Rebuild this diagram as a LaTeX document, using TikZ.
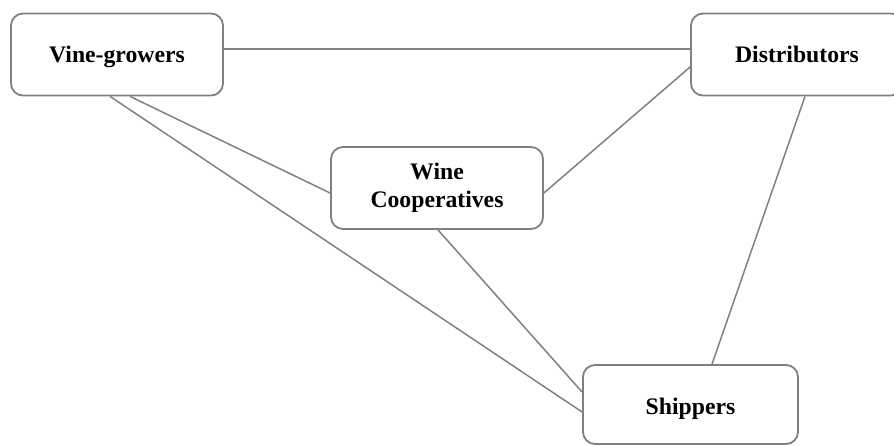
\documentclass[tikz,border=0pt]{standalone}
\usepackage{fontspec}
\setmainfont{Liberation Serif}
\usetikzlibrary{calc}
\definecolor{edgegray}{RGB}{128,128,128}
\tikzset{
  box/.style={draw=edgegray, line width=1.8pt, rounded corners=12pt, fill=white,
    minimum width=212pt, minimum height=82pt, align=center, inner sep=0pt,
    font=\fontsize{23.7}{27.5}\selectfont\bfseries},
  oneline/.style={text height=17pt, text depth=0pt},
  link/.style={draw=edgegray, line width=1.5pt}
}
\begin{document}
\begin{tikzpicture}[x=1pt,y=-1pt]
\useasboundingbox (0,0) rectangle (894,446);
\node[box, oneline] (vg) at (117,54.5) {Vine-growers};
\node[box, oneline] (dist) at (797,54.5) {Distributors};
\node[box] (coop) at (437,188) {Wine\\Cooperatives};
\node[box, text height=19pt, text depth=0pt, minimum width=215pt, minimum height=79pt] (ship) at (690.5,404.5) {Shippers};
\draw[link] ($(vg.east)+(0,5.5pt)$) -- ($(dist.west)+(0,5.5pt)$);
\draw[link] ($(vg.south)+(13pt,0)$) -- ($(coop.west)+(0,-5pt)$);
\draw[link] ($(vg.south)+(-7pt,0)$) -- ($(ship.west)+(0,-7.5pt)$);
\draw[link] ($(dist.west)+(0,-12.5pt)$) -- ($(coop.east)+(0,-5pt)$);
\draw[link] ($(dist.south)+(8pt,0)$) -- ($(ship.north)+(21.5pt,0)$);
\draw[link] ($(coop.south)+(1pt,0)$) -- ($(ship.west)+(0,12.5pt)$);
\end{tikzpicture}
\end{document}
